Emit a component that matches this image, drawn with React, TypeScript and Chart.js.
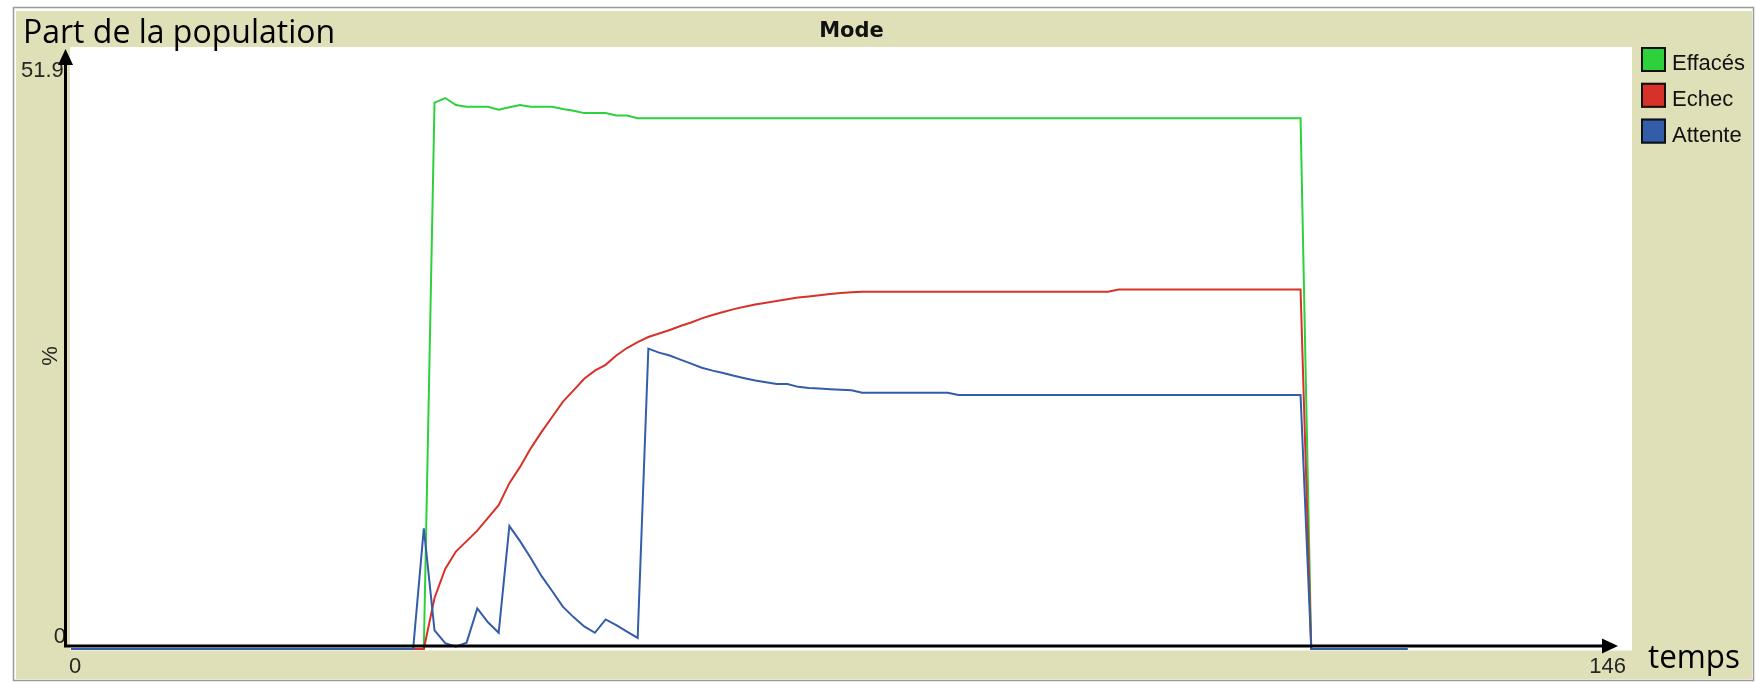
import React, { useEffect, useRef } from 'react';
import { Chart, registerables } from 'chart.js';

Chart.register(...registerables);

// ---- data ----
const TIME = [
  0, 1, 2, 3, 4, 5, 6, 7, 8, 9,
  10, 11, 12, 13, 14, 15, 16, 17, 18, 19,
  20, 21, 22, 23, 24, 25, 26, 27, 28, 29,
  30, 31, 32, 33, 34, 35, 36, 37, 38, 39,
  40, 41, 42, 43, 44, 45, 46, 47, 48, 49,
  50, 51, 52, 53, 54, 55, 56, 57, 58, 59,
  60, 61, 62, 63, 64, 65, 66, 67, 68, 69,
  70, 71, 72, 73, 74, 75, 76, 77, 78, 79,
  80, 81, 82, 83, 84, 85, 86, 87, 88, 89,
  90, 91, 92, 93, 94, 95, 96, 97, 98, 99,
  100, 101, 102, 103, 104, 105, 106, 107, 108, 109,
  110, 111, 112, 113, 114, 115, 116, 117, 118, 119,
  120, 121, 122, 123, 124, 125,
];

const EFFACES = [
  0, 0, 0, 0, 0, 0, 0, 0, 0, 0,
  0, 0, 0, 0, 0, 0, 0, 0, 0, 0,
  0, 0, 0, 0, 0, 0, 0, 0, 0, 0,
  0, 0, 0, 0, 47.1, 47.5, 46.9, 46.75, 46.75, 46.75,
  46.5, 46.7, 46.9, 46.75, 46.75, 46.75, 46.55, 46.4, 46.2, 46.2,
  46.2, 46.0, 46.0, 45.75, 45.75, 45.75, 45.75, 45.75, 45.75, 45.75,
  45.75, 45.75, 45.75, 45.75, 45.75, 45.75, 45.75, 45.75, 45.75, 45.75,
  45.75, 45.75, 45.75, 45.75, 45.75, 45.75, 45.75, 45.75, 45.75, 45.75,
  45.75, 45.75, 45.75, 45.75, 45.75, 45.75, 45.75, 45.75, 45.75, 45.75,
  45.75, 45.75, 45.75, 45.75, 45.75, 45.75, 45.75, 45.75, 45.75, 45.75,
  45.75, 45.75, 45.75, 45.75, 45.75, 45.75, 45.75, 45.75, 45.75, 45.75,
  45.75, 45.75, 45.75, 45.75, 45.75, 45.75, 0, 0, 0, 0,
  0, 0, 0, 0, 0, 0,
];

const ECHEC = [
  0, 0, 0, 0, 0, 0, 0, 0, 0, 0,
  0, 0, 0, 0, 0, 0, 0, 0, 0, 0,
  0, 0, 0, 0, 0, 0, 0, 0, 0, 0,
  0, 0, 0, 0, 4.4, 6.9, 8.4, 9.3, 10.2, 11.3,
  12.4, 14.3, 15.7, 17.3, 18.7, 20.0, 21.3, 22.3, 23.3, 24.0,
  24.5, 25.3, 25.95, 26.45, 26.9, 27.2, 27.5, 27.85, 28.15, 28.5,
  28.8, 29.05, 29.3, 29.5, 29.7, 29.85, 30.0, 30.15, 30.3, 30.4,
  30.5, 30.6, 30.7, 30.75, 30.8, 30.8, 30.8, 30.8, 30.8, 30.8,
  30.8, 30.8, 30.8, 30.8, 30.8, 30.8, 30.8, 30.8, 30.8, 30.8,
  30.8, 30.8, 30.8, 30.8, 30.8, 30.8, 30.8, 30.8, 31.0, 31.0,
  31.0, 31.0, 31.0, 31.0, 31.0, 31.0, 31.0, 31.0, 31.0, 31.0,
  31.0, 31.0, 31.0, 31.0, 31.0, 31.0, 0, 0, 0, 0,
  0, 0, 0, 0, 0, 0,
];

const ATTENTE = [
  0, 0, 0, 0, 0, 0, 0, 0, 0, 0,
  0, 0, 0, 0, 0, 0, 0, 0, 0, 0,
  0, 0, 0, 0, 0, 0, 0, 0, 0, 0,
  0, 0, 0, 10.4, 1.6, 0.5, 0.2, 0.55, 3.5, 2.3,
  1.4, 10.6, 9.3, 7.85, 6.3, 5.0, 3.65, 2.75, 1.95, 1.4,
  2.55, 2.05, 1.5, 0.95, 25.9, 25.55, 25.3, 24.95, 24.6, 24.25,
  24.0, 23.8, 23.55, 23.35, 23.15, 23.0, 22.85, 22.85, 22.6, 22.5,
  22.45, 22.4, 22.35, 22.3, 22.1, 22.1, 22.1, 22.1, 22.1, 22.1,
  22.1, 22.1, 22.1, 21.9, 21.9, 21.9, 21.9, 21.9, 21.9, 21.9,
  21.9, 21.9, 21.9, 21.9, 21.9, 21.9, 21.9, 21.9, 21.9, 21.9,
  21.9, 21.9, 21.9, 21.9, 21.9, 21.9, 21.9, 21.9, 21.9, 21.9,
  21.9, 21.9, 21.9, 21.9, 21.9, 21.9, 0, 0, 0, 0,
  0, 0, 0, 0, 0, 0,
];

const SERIES_LABELS = ['Effacés', 'Echec', 'Attente'];
const SERIES_COLORS = ['rgb(44,209,59)', 'rgb(215,50,41)', 'rgb(52,93,169)'];

const X_MIN = 0;
const X_MAX = 146;
const Y_MIN = 0;
const Y_MAX = 51.9;
const X_TICK_LABELS = ['0', '146'];
const Y_TICK_LABELS = ['0', '51.9'];
const TITLE = 'Mode';
const Y_TITLE = '%';
const NOTE_Y = 'Part de la population';
const NOTE_X = 'temps';

const BEIGE = 'rgb(224,224,184)';

function arrow(ctx: CanvasRenderingContext2D, x1: number, y1: number, x2: number, y2: number) {
  const ang = Math.atan2(y2 - y1, x2 - x1);
  const headLen = 16;
  const headHalf = 7.5;
  const bx = x2 - headLen * Math.cos(ang);
  const by = y2 - headLen * Math.sin(ang);
  ctx.beginPath();
  ctx.moveTo(x1, y1);
  ctx.lineTo(bx, by);
  ctx.lineWidth = 3;
  ctx.strokeStyle = '#000';
  ctx.stroke();
  ctx.beginPath();
  ctx.moveTo(x2, y2);
  ctx.lineTo(bx + headHalf * Math.sin(ang), by - headHalf * Math.cos(ang));
  ctx.lineTo(bx - headHalf * Math.sin(ang), by + headHalf * Math.cos(ang));
  ctx.closePath();
  ctx.fillStyle = '#000';
  ctx.fill();
}

const decor = {
  id: 'decor',
  beforeDraw(chart: any) {
    const { ctx, width, height, chartArea: a } = chart;
    ctx.save();
    ctx.fillStyle = '#ffffff';
    ctx.fillRect(0, 0, width, height);
    ctx.strokeStyle = '#9a9a9a';
    ctx.lineWidth = 1.5;
    ctx.strokeRect(13.5, 7.5, 1740, 673);
    ctx.fillStyle = BEIGE;
    ctx.fillRect(16, 11, 1736, 668);
    ctx.fillStyle = '#ffffff';
    ctx.fillRect(a.left - 1, a.top, a.right - a.left + 1, a.bottom - a.top + 1.5);
    ctx.restore();
  },
  afterDraw(chart: any) {
    const { ctx, chartArea: a } = chart;
    const xs = chart.scales.x;
    const ys = chart.scales.y;
    ctx.save();

    // title
    ctx.fillStyle = '#111';
    ctx.font = 'bold 21px "DejaVu Sans"';
    ctx.textAlign = 'center';
    ctx.textBaseline = 'alphabetic';
    ctx.fillText(TITLE, (a.left + a.right) / 2, 37);

    // tick labels
    ctx.fillStyle = '#262626';
    ctx.font = '22px "Liberation Sans"';
    ctx.textAlign = 'left';
    ctx.fillText(Y_TICK_LABELS[1], 21, ys.getPixelForValue(Y_MAX) + 30);
    ctx.textAlign = 'right';
    ctx.fillText(Y_TICK_LABELS[0], 66, ys.getPixelForValue(Y_MIN) - 6);
    ctx.textAlign = 'left';
    ctx.fillText(X_TICK_LABELS[0], xs.getPixelForValue(X_MIN) - 2, 673);
    ctx.textAlign = 'right';
    ctx.fillText(X_TICK_LABELS[1], xs.getPixelForValue(X_MAX) - 6, 673);

    // y title
    ctx.save();
    ctx.translate(51, (a.top + a.bottom) / 2 + 8);
    ctx.rotate(-Math.PI / 2);
    ctx.textAlign = 'center';
    ctx.textBaseline = 'middle';
    ctx.fillText(Y_TITLE, 0, 0);
    ctx.restore();

    // legend
    ctx.font = '22px "Liberation Sans"';
    ctx.textAlign = 'left';
    SERIES_LABELS.forEach((lab, i) => {
      const y0 = 47 + i * 35.8;
      ctx.fillStyle = SERIES_COLORS[i];
      ctx.fillRect(1641, y0, 25, 25);
      ctx.strokeStyle = '#111';
      ctx.lineWidth = 2;
      ctx.strokeRect(1642, y0 + 1, 23, 23);
      ctx.fillStyle = '#111';
      ctx.fillText(lab, 1672, y0 + 23, 76);
    });

    // slide annotations
    ctx.fillStyle = '#000';
    ctx.font = '32px "Open Sans"';
    ctx.textAlign = 'left';
    ctx.fillText(NOTE_Y, 23, 43, 316);
    ctx.fillText(NOTE_X, 1648, 668, 92);

    arrow(ctx, 65.5, 647, 65.5, 49);
    arrow(ctx, 64, 646, 1618, 646);

    ctx.restore();
  },
};

export default function App() {
  const ref = useRef<HTMLCanvasElement>(null);

  useEffect(() => {
    if (!ref.current) return;
    const series = [EFFACES, ECHEC, ATTENTE];
    const chart = new Chart(ref.current, {
      type: 'line',
      data: {
        datasets: series.map((vals, i) => ({
          label: SERIES_LABELS[i],
          data: TIME.map((t, k) => ({ x: t, y: vals[k] })),
          borderColor: SERIES_COLORS[i],
          backgroundColor: SERIES_COLORS[i],
          borderWidth: 2,
          pointRadius: 0,
          tension: 0,
          fill: false,
          clip: false as any,
          order: 3 - i,
        })),
      },
      options: {
        responsive: false,
        animation: false,
        devicePixelRatio: 1,
        layout: { padding: { left: 71, top: 47, right: 124, bottom: 33 } },
        scales: {
          x: { type: 'linear', min: X_MIN, max: X_MAX, display: false },
          y: { type: 'linear', min: Y_MIN, max: Y_MAX, display: false },
        },
        plugins: {
          legend: { display: false },
          tooltip: { enabled: false },
          title: { display: false },
        },
        events: [],
      },
      plugins: [decor],
    });
    return () => chart.destroy();
  }, []);

  return (
    <div style={{ position: 'absolute', left: 0, top: 0, width: 1756, height: 682 }}>
      <canvas ref={ref} width={1756} height={682} style={{ display: 'block', width: 1756, height: 682 }} />
    </div>
  );
}
